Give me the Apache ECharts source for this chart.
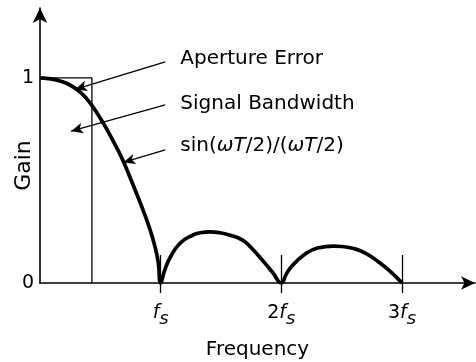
<!DOCTYPE html>
<html>
<head>
<meta charset="utf-8">
<script src="https://cdn.jsdelivr.net/npm/echarts@6/dist/echarts.min.js"></script>
<style>
  html, body { margin: 0; padding: 0; background: #fff; }
  #chart { width: 476px; height: 362px; }
</style>
</head>
<body>
<div id="chart"></div>
<script>
// Frequency is expressed in multiples of the sampling rate fs.
// Sample-and-hold response |sin(wT/2)/(wT/2)|: main lobe and two side lobes.
const responseFreq = [0, 0.07, 0.149, 0.215, 0.281, 0.34, 0.386, 0.43, 0.5, 0.561, 0.63, 0.693, 0.77, 0.851, 0.912, 0.956, 0.98, 1.0,
                      1.035, 1.081, 1.163, 1.268, 1.33, 1.407, 1.49, 1.569, 1.675, 1.756, 1.862, 1.93, 2.0,
                      2.04, 2.081, 2.187, 2.30, 2.431, 2.5, 2.6, 2.7, 2.8, 2.9, 3.0];
const responseGain = [1.0, 0.997, 0.988, 0.975, 0.954, 0.927, 0.899, 0.866, 0.803, 0.742, 0.666, 0.59, 0.48, 0.36, 0.26, 0.17, 0.1, 0,
                      0.065, 0.127, 0.195, 0.234, 0.245, 0.249, 0.245, 0.234, 0.21, 0.168, 0.098, 0.05, 0,
                      0.042, 0.078, 0.137, 0.171, 0.18, 0.178, 0.168, 0.145, 0.105, 0.058, 0];

// Ideal signal band (rectangle) edge, in fs
const bandEdge = 0.43;
const bandGain = 1;

// Axis ticks
const freqTicks = [1, 2, 3];
const freqTickLabels = ['{i|f}{s|s}', '2{i|f}{s|s}', '3{i|f}{s|s}'];
const gainTicks = [0, 1];

// Annotations: text, where the text starts, and the arrow from text to curve
const noteTexts = ['Aperture Error', 'Signal Bandwidth', 'sin({i|\u03c9}{i|T}/2)/({i|\u03c9}{i|T}/2)'];
const noteAnchors = [[1.163, 1.093], [1.163, 0.873], [1.163, 0.668]];
const arrowTails = [[1.038, 1.078], [1.038, 0.868], [1.038, 0.649]];
const arrowHeads = [[0.29, 0.944], [0.257, 0.74], [0.69, 0.588]];

const FONT = 'DejaVu Sans';
const INK = '#000';
const X_MAX = 3.605;

const responseData = responseFreq.map((f, i) => [f, responseGain[i]]);
const bandData = [[0, bandGain], [bandEdge, bandGain], [bandEdge, 0]];

const chart = echarts.init(document.getElementById('chart'), null, { renderer: 'canvas' });

chart.setOption({
  animation: false,
  backgroundColor: '#fff',
  grid: { left: 40, right: 1, top: 8, bottom: 79, containLabel: false, outerBoundsMode: 'none' },
  xAxis: [
    {
      type: 'value', min: 0, max: X_MAX, position: 'bottom',
      axisLine: { show: true, symbol: ['none', 'arrow'], symbolSize: [10, 14],
                  lineStyle: { color: INK, width: 1.6 } },
      axisTick: { show: true, inside: true, length: 28, customValues: freqTicks,
                  lineStyle: { color: INK, width: 1.3 } },
      axisLabel: {
        show: true, customValues: freqTicks, margin: 15,
        formatter: v => freqTickLabels[freqTicks.indexOf(Math.round(v))] || '',
        color: INK, fontFamily: FONT, fontSize: 19,
        rich: {
          i: { fontStyle: 'italic', fontFamily: FONT, fontSize: 19, color: INK },
          s: { fontStyle: 'italic', fontFamily: FONT, fontSize: 18, color: INK, padding: [12, 0, 0, 0] }
        }
      },
      splitLine: { show: false },
      name: 'Frequency', nameLocation: 'middle', nameGap: 57, nameMoveOverlap: false,
      nameTextStyle: { color: INK, fontFamily: FONT, fontSize: 20 }
    },
    {
      type: 'value', min: 0, max: X_MAX, position: 'bottom',
      axisLine: { show: false },
      axisTick: { show: true, inside: false, length: 10, customValues: freqTicks,
                  lineStyle: { color: INK, width: 1.3 } },
      axisLabel: { show: false },
      splitLine: { show: false }
    }
  ],
  yAxis: {
    type: 'value', min: 0, max: 1.341, interval: 1,
    axisLine: { show: true, symbol: ['none', 'arrow'], symbolSize: [11, 15],
                lineStyle: { color: INK, width: 1.6 } },
    axisTick: { show: false },
    axisLabel: { show: true, customValues: gainTicks, margin: 6, color: INK, fontFamily: FONT, fontSize: 19 },
    splitLine: { show: false },
    name: 'Gain', nameLocation: 'middle', nameGap: 5, nameRotate: 90, nameMoveOverlap: false,
    nameTextStyle: { color: INK, fontFamily: FONT, fontSize: 22, padding: [0, 40, 0, 0] }
  },
  series: [
    {
      type: 'line', name: 'band', data: bandData, symbol: 'none', silent: true,
      lineStyle: { color: INK, width: 1.3 }, z: 2,
      markLine: {
        silent: true, symbol: ['none', 'arrow'], symbolSize: [8, 12],
        label: { show: false },
        lineStyle: { color: INK, width: 1.3, type: 'solid' },
        data: arrowTails.map((t, i) => [{ coord: t }, { coord: arrowHeads[i] }])
      }
    },
    {
      type: 'line', name: 'response', data: responseData, symbol: 'none', silent: true,
      smooth: 0.5, lineStyle: { color: INK, width: 3.7 }, z: 3
    },
    {
      type: 'scatter', name: 'notes', symbolSize: 0, silent: true,
      itemStyle: { opacity: 1 },
      data: noteAnchors.map((p, i) => ({ value: p, name: noteTexts[i] })),
      label: {
        show: true, position: 'right', distance: 0, formatter: p => p.name, opacity: 1,
        color: INK, fontFamily: FONT, fontSize: 20,
        rich: { i: { fontStyle: 'italic', fontFamily: FONT, fontSize: 20, color: INK } }
      }
    }
  ]
});
</script>
</body>
</html>
